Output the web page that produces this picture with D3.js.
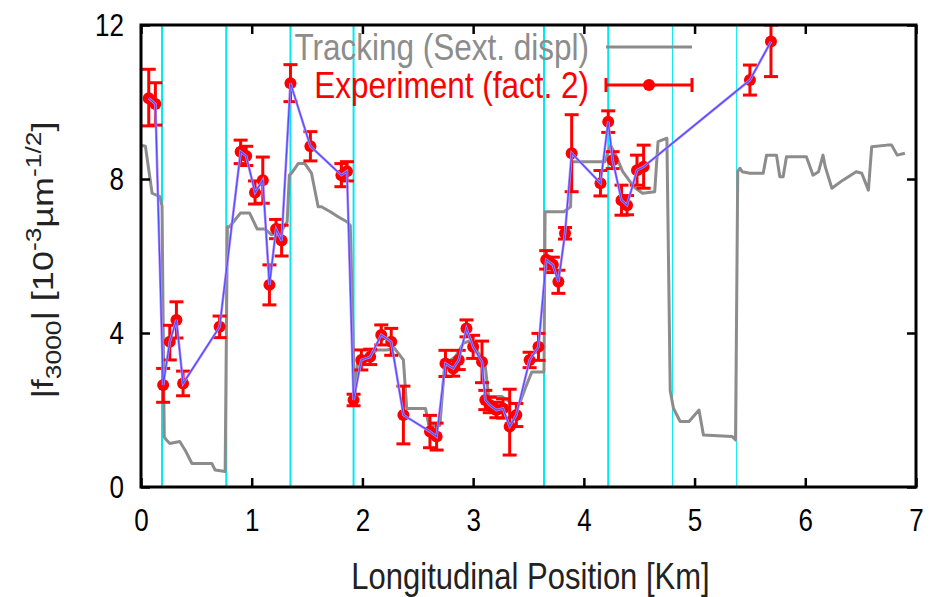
<!DOCTYPE html>
<html>
<head>
<meta charset="utf-8">
<script src="https://cdn.jsdelivr.net/npm/d3@7"></script>
<style>
  html, body { margin: 0; padding: 0; background: #fff; }
  svg { display: block; font-family: "Liberation Sans", Arial, sans-serif; }
  /* glyphs are drawn a little taller than wide */
  .tall { transform-box: fill-box; transform-origin: center; transform: scaleY(1.2); }
</style>
</head>
<body>
<svg id="chart" width="935" height="597"></svg>
<script>
// Tracking prediction (sextupole displacement), position [km] and |f3000|
const trackPos = [0, 0.04, 0.1, 0.17, 0.19, 0.21, 0.23, 0.26, 0.35, 0.4, 0.46, 0.64, 0.67, 0.76,
  0.78, 0.8, 0.9, 0.98, 1.05, 1.12, 1.18, 1.28, 1.32, 1.34, 1.36, 1.42, 1.48, 1.54, 1.6, 1.63,
  1.71, 1.78, 1.86, 1.89, 1.93, 1.96, 2.08, 2.13, 2.22, 2.29, 2.37, 2.4, 2.57, 2.6, 2.7, 2.74,
  2.75, 2.84, 2.91, 2.99, 3.11, 3.14, 3.26, 3.35, 3.42, 3.47, 3.53, 3.64, 3.65, 3.82, 3.88,
  3.89, 4.19, 4.24, 4.28, 4.35, 4.45, 4.53, 4.64, 4.67, 4.75, 4.78, 4.81, 4.87, 4.95, 5.04,
  5.08, 5.34, 5.37, 5.39, 5.41, 5.43, 5.5, 5.62, 5.65, 5.74, 5.77, 5.8, 5.83, 6.01, 6.07,
  6.12, 6.16, 6.18, 6.24, 6.34, 6.46, 6.51, 6.57, 6.6, 6.74, 6.78, 6.83, 6.9];
const trackVal = [8.88, 8.85, 7.63, 7.54, 7.3, 1.3, 1.22, 1.13, 1.18, 0.95, 0.61, 0.61, 0.44, 0.4,
  6.76, 6.76, 7.12, 7.12, 6.7, 6.7, 6.55, 6.7, 6.89, 8.1, 8.15, 8.4, 8.4, 8.15, 7.28, 7.28,
  7.15, 7.02, 6.89, 6.8, 2.3, 3.34, 3.43, 3.56, 3.56, 3.6, 3.3, 2.04, 2.04, 1.6, 1.6, 3.1,
  3.21, 3.38, 3.73, 3.82, 3.12, 2.35, 2.35, 2.17, 2.17, 2.56, 2.99, 2.99, 7.15, 7.15, 7.28,
  8.45, 8.45, 8.88, 8.67, 8.2, 7.8, 7.63, 7.67, 8.97, 9.06, 2.5, 2.04, 1.7, 1.7, 2.0,
  1.35, 1.31, 1.22, 8.2, 8.28, 8.19, 8.15, 8.15, 8.62, 8.62, 8.06, 8.06, 8.58, 8.58, 8.1,
  8.19, 8.62, 8.32, 7.76, 7.97, 8.19, 8.15, 7.71, 8.84, 8.88, 8.88, 8.62, 8.67];

// Measured |f3000| (scaled by a factor 2) with lower / upper error limits
const expPos = [0.07, 0.13, 0.2, 0.26, 0.32, 0.38, 0.71, 0.9, 0.95, 1.03, 1.1, 1.16, 1.22, 1.27,
  1.35, 1.53, 1.81, 1.86, 1.92, 1.99, 2.07, 2.17, 2.26, 2.37, 2.61, 2.67, 2.75, 2.82, 2.87,
  2.94, 3.0, 3.08, 3.11, 3.15, 3.21, 3.27, 3.33, 3.39, 3.51, 3.59, 3.66, 3.72, 3.77, 3.83,
  3.89, 4.15, 4.22, 4.26, 4.34, 4.39, 4.48, 4.54, 5.5, 5.69];
const expVal = [10.1, 9.95, 2.65, 3.77, 4.34, 2.69, 4.16, 8.71, 8.6, 7.65, 7.97, 5.25, 6.7, 6.4,
  10.49, 8.85, 8.1, 8.2, 2.26, 3.3, 3.38, 3.95, 3.77, 1.87, 1.44, 1.31, 3.21, 3.08, 3.3,
  4.12, 3.64, 3.25, 2.26, 2.13, 2.0, 2.04, 1.57, 1.87, 3.3, 3.64, 5.9, 5.77, 5.33, 6.59,
  8.67, 7.89, 9.49, 8.49, 7.45, 7.32, 8.23, 8.32, 10.57, 11.57];
const expLow = [9.38, 9.4, 2.2, 3.3, 3.87, 2.37, 3.88, 8.4, 8.35, 7.35, 7.37, 4.73, 6.45, 6.0,
  10.01, 8.47, 7.8, 7.95, 2.11, 3.04, 3.18, 3.69, 3.42, 1.12, 1.02, 0.96, 2.87, 2.88, 3.05,
  3.9, 3.34, 2.71, 2.01, 1.93, 1.8, 1.79, 0.83, 1.57, 3.1, 3.29, 5.66, 5.57, 5.03, 6.44,
  7.67, 7.56, 9.21, 8.27, 7.06, 7.07, 7.84, 7.76, 10.18, 10.66];
const expHigh = [10.85, 10.5, 3.08, 4.2, 4.81, 3.01, 4.44, 9.01, 8.85, 7.95, 8.57, 5.77, 6.95, 6.8,
  10.97, 9.23, 8.4, 8.45, 2.41, 3.56, 3.58, 4.21, 4.12, 2.62, 1.86, 1.66, 3.55, 3.28, 3.55,
  4.34, 3.94, 3.79, 2.51, 2.33, 2.2, 2.29, 2.54, 2.17, 3.5, 3.99, 6.14, 5.97, 5.63, 6.74,
  9.67, 8.22, 9.77, 8.71, 7.84, 7.57, 8.62, 8.88, 10.96, 12.0];

// Magnet (sextupole family) locations marked by vertical lines
const markerPos = [0.19, 0.77, 1.35, 1.92, 3.64, 4.22, 4.80, 5.38];
const markerWidth = [2, 2, 2, 2, 2, 2, 1, 1];

const xTicks = [0, 1, 2, 3, 4, 5, 6, 7];
const yTicks = [0, 4, 8, 12];

const legendLabels = ["Tracking (Sext. displ)", "Experiment (fact. 2)"];

const svg = d3.select("#chart");
const margin = { left: 141, right: 19, top: 25, bottom: 110 };
const W = 935, H = 597;

const x = d3.scaleLinear().domain([0, 7]).range([margin.left, W - margin.right]);
const y = d3.scaleLinear().domain([0, 12]).range([H - margin.bottom, margin.top]);

const trackColor = "#8c8c8c";
const expColor = "#ff0000";
const lineColor = "#4d4dff";
const cyan = "#00e8f0";

svg.append("defs").append("clipPath").attr("id", "plotClip")
  .append("rect")
  .attr("x", x(0)).attr("y", y(12))
  .attr("width", x(7) - x(0)).attr("height", y(0) - y(12));

const plot = svg.append("g").attr("clip-path", "url(#plotClip)");

// vertical marker lines
plot.selectAll("line.marker").data(markerPos).join("line")
  .attr("class", "marker")
  .attr("x1", d => x(d)).attr("x2", d => x(d))
  .attr("y1", y(0)).attr("y2", y(12))
  .attr("stroke", cyan)
  .attr("stroke-width", (d, i) => markerWidth[i]);

// tracking curve
const trackData = trackPos.map((p, i) => [p, trackVal[i]]);
plot.append("path")
  .datum(trackData)
  .attr("fill", "none")
  .attr("stroke", trackColor)
  .attr("stroke-width", 3)
  .attr("stroke-linejoin", "round")
  .attr("d", d3.line().x(d => x(d[0])).y(d => y(d[1])));

// experiment error bars
const expData = expPos.map((p, i) => ({ p, v: expVal[i], lo: expLow[i], hi: expHigh[i] }));
const capHalf = 7;
const eb = plot.append("g").attr("stroke", expColor).attr("stroke-width", 3);
eb.selectAll("line.bar").data(expData).join("line")
  .attr("x1", d => x(d.p)).attr("x2", d => x(d.p))
  .attr("y1", d => y(d.lo)).attr("y2", d => y(d.hi));
eb.selectAll("line.capLo").data(expData).join("line")
  .attr("x1", d => x(d.p) - capHalf).attr("x2", d => x(d.p) + capHalf)
  .attr("y1", d => y(d.lo)).attr("y2", d => y(d.lo));
eb.selectAll("line.capHi").data(expData).join("line")
  .attr("x1", d => x(d.p) - capHalf).attr("x2", d => x(d.p) + capHalf)
  .attr("y1", d => y(d.hi)).attr("y2", d => y(d.hi));
plot.selectAll("circle.pt").data(expData).join("circle")
  .attr("cx", d => x(d.p)).attr("cy", d => y(d.v)).attr("r", 6)
  .attr("fill", expColor);

// connecting line through experimental points
const expLine = d3.line().x(d => x(d.p)).y(d => y(d.v));
plot.append("path").datum(expData)
  .attr("fill", "none").attr("stroke", "#b28cff").attr("stroke-width", 2.6)
  .attr("d", expLine);
plot.append("path").datum(expData)
  .attr("fill", "none").attr("stroke", lineColor).attr("stroke-width", 1.2)
  .attr("d", expLine);

// frame + ticks on all sides
const tickLen = 9;
const axB = svg.append("g").attr("transform", `translate(0,${y(0)})`)
  .call(d3.axisBottom(x).tickValues(xTicks).tickSize(-tickLen).tickPadding(24).tickFormat(d3.format("d")));
const axT = svg.append("g").attr("transform", `translate(0,${y(12)})`)
  .call(d3.axisTop(x).tickValues(xTicks).tickSize(-tickLen).tickFormat(""));
const axL = svg.append("g").attr("transform", `translate(${x(0)},0)`)
  .call(d3.axisLeft(y).tickValues(yTicks).tickSize(-tickLen).tickPadding(17).tickFormat(d3.format("d")));
const axR = svg.append("g").attr("transform", `translate(${x(7)},0)`)
  .call(d3.axisRight(y).tickValues(yTicks).tickSize(-tickLen).tickFormat(""));
[axB, axT, axL, axR].forEach(a => {
  a.select(".domain").remove();
  a.selectAll(".tick line").attr("stroke", "#000").attr("stroke-width", 2.5);
  a.selectAll("text").attr("fill", "#000").attr("font-size", 26)
    .attr("font-family", "Liberation Sans, Arial, sans-serif")
    .attr("class", "tall");
});
svg.append("rect")
  .attr("x", x(0)).attr("y", y(12))
  .attr("width", x(7) - x(0)).attr("height", y(0) - y(12))
  .attr("fill", "none").attr("stroke", "#000").attr("stroke-width", 3);

// legend
const legRight = 589;
const legX1 = 606, legX2 = 692;
const legY = [47, 85];
svg.append("text").attr("class", "tall")
  .attr("x", legRight).attr("y", legY[0]).attr("dy", "0.35em")
  .attr("text-anchor", "end").attr("font-size", 31.5).attr("fill", trackColor)
  .text(legendLabels[0]);
svg.append("line").attr("x1", legX1).attr("x2", legX2).attr("y1", legY[0]).attr("y2", legY[0])
  .attr("stroke", trackColor).attr("stroke-width", 3);
svg.append("text").attr("class", "tall")
  .attr("x", legRight).attr("y", legY[1]).attr("dy", "0.35em")
  .attr("text-anchor", "end").attr("font-size", 31.5).attr("fill", expColor)
  .text(legendLabels[1]);
const lg = svg.append("g").attr("stroke", expColor).attr("stroke-width", 3);
lg.append("line").attr("x1", legX1).attr("x2", legX2).attr("y1", legY[1]).attr("y2", legY[1]);
lg.append("line").attr("x1", legX1).attr("x2", legX1).attr("y1", legY[1] - 7).attr("y2", legY[1] + 7);
lg.append("line").attr("x1", legX2).attr("x2", legX2).attr("y1", legY[1] - 7).attr("y2", legY[1] + 7);
svg.append("circle").attr("cx", (legX1 + legX2) / 2).attr("cy", legY[1]).attr("r", 6).attr("fill", expColor);

// axis titles
svg.append("text").attr("class", "tall")
  .attr("x", (x(0) + x(7)) / 2 + 2).attr("y", 576).attr("dy", "0.35em")
  .attr("text-anchor", "middle").attr("font-size", 31).attr("fill", "#222")
  .text("Longitudinal Position [Km]");

const ytG = svg.append("g")
  .attr("transform", `translate(42,${(y(0) + y(12)) / 2 + 4}) rotate(-90) scale(1.2,1)`);
const yt = ytG.append("text")
  .attr("text-anchor", "middle").attr("dy", "0.35em").attr("font-size", 30).attr("fill", "#222");
yt.append("tspan").text("|f");
yt.append("tspan").attr("font-size", 22).attr("dy", 8).text("3000");
yt.append("tspan").attr("dy", -8).text("| [10");
yt.append("tspan").attr("font-size", 22).attr("dy", -12).text("-3");
yt.append("tspan").attr("dy", 12).text("µm");
yt.append("tspan").attr("font-size", 22).attr("dy", -12).text("-1/2");
yt.append("tspan").attr("dy", 12).text("]");
</script>
</body>
</html>
